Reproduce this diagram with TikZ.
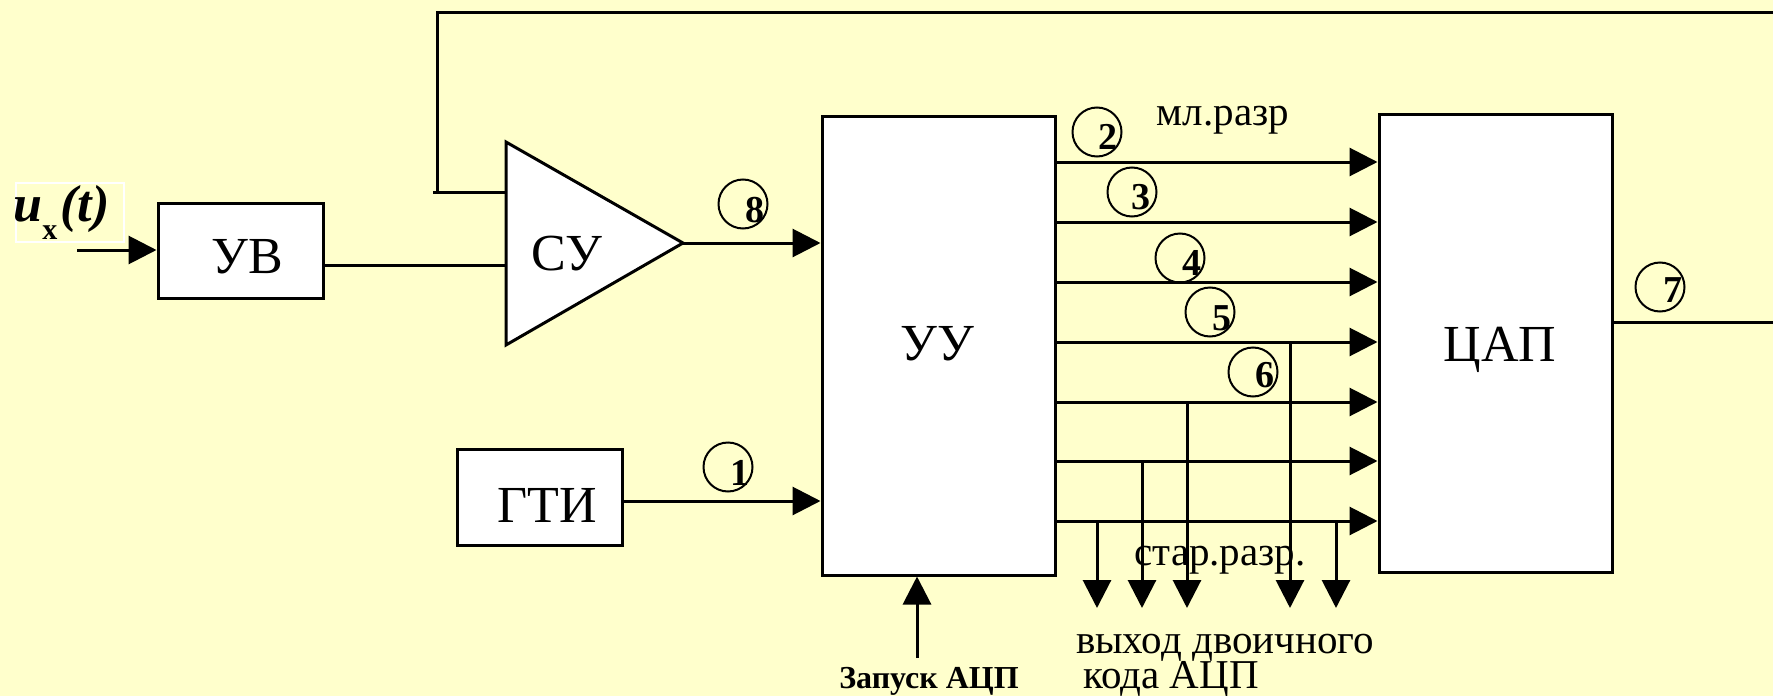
\documentclass[tikz,border=0pt]{standalone}
\usepackage{fontspec}
\setmainfont{Liberation Serif}
\usetikzlibrary{arrows.meta,calc}
\definecolor{bgy}{RGB}{255,255,204}
\begin{document}
\begin{tikzpicture}[x=0.5pt,y=-0.5pt,
  line width=1.5pt,
  arr/.style={-{Triangle[length=14pt,width=14pt]}},
  blk/.style={draw, fill=white, inner sep=0pt, line width=1.5pt},
  lbl/.style={font=\fontsize{26}{28}\selectfont, inner sep=0pt, anchor=base},
  numc/.style={draw, circle, line width=1pt, minimum size=24.5pt, inner sep=0pt},
  numd/.style={font=\fontsize{19}{20}\selectfont\bfseries, inner sep=0pt},
  small/.style={font=\fontsize{20.5}{22}\selectfont, inner sep=0pt, anchor=base}]
% background
\fill[bgy] (0,0) rectangle (1773,696);
\useasboundingbox (0,0) rectangle (1773,696);

% input label
\draw[white, line width=1pt] (16,183) rectangle (124,242);
\node[anchor=base west, inner sep=0pt, font=\fontsize{26}{27}\selectfont\bfseries] (ux) at (12,221)
  {\itshape u\raisebox{-9pt}{\upshape\fontsize{15}{16}\selectfont x}\hspace{1.5pt}(t)};

% blocks
\node[blk, minimum width=82.5pt, minimum height=47.5pt] (UV) at (240.5,250.5) {};
\node[lbl] (UVt) at (247,273) {УВ};
\node[blk, minimum width=82.5pt, minimum height=48pt] (GTI) at (539.5,497) {};
\node[lbl] (GTIt) at (547,522) {ГТИ};
\node[blk, minimum width=116.5pt, minimum height=229.5pt] (UU) at (938.5,345.5) {};
\node[lbl] (UUt) at (937,360) {УУ};
\node[blk, minimum width=116.5pt, minimum height=229pt] (CAP) at (1495.5,343) {};
\node[lbl] (CAPt) at (1500,361) {ЦАП};

% comparator triangle
\coordinate (SUtop) at (506,142);
\coordinate (SUbot) at (506,345);
\coordinate (SUout) at (683,243);
\filldraw[fill=white] (SUtop) -- (SUout) -- (SUbot) -- cycle;
\node[lbl] (SUt) at (567,270) {СУ};

% input arrow
\coordinate (uin) at (77,250);
\draw[arr] (uin) -- (UV.west |- uin);
% UV -> SU
\coordinate (suin) at (506,265);
\draw (UV.east |- suin) -- (suin);
% feedback
\coordinate (fb) at (506,192);
\coordinate (fbl) at (433,192);
\coordinate (fbc) at (437,192);
\coordinate (fbt) at (437,12);
\coordinate (fbr) at (1773,12);
\draw (fb) -- (fbl);
\draw (fbc) -- (fbt) -- (fbr);
% SU -> UU
\draw[arr] (SUout) -- (UU.west |- SUout);
% GTI -> UU
\coordinate (gy) at (0,501);
\draw[arr] (GTI.east |- gy) -- (UU.west |- gy);
% start
\coordinate (st) at (917,658);
\draw[arr] (st) -- (st |- UU.south);
% CAP output
\coordinate (cout) at (1773,322);
\draw (CAP.east |- cout) -- (cout);

% bus
\foreach \y [count=\i] in {162,222,282,342,402,461,521} {
  \coordinate (b\i) at (0,\y);
  \draw[arr] (UU.east |- b\i) -- (CAP.west |- b\i);
}
% output bits
\coordinate (o1) at (1097,608);
\coordinate (o2) at (1142,608);
\coordinate (o3) at (1187,608);
\coordinate (o4) at (1290,608);
\coordinate (o5) at (1336,608);
\draw[arr] (o1 |- b7) -- (o1);
\draw[arr] (o2 |- b6) -- (o2);
\draw[arr] (o3 |- b5) -- (o3);
\draw[arr] (o4 |- b4) -- (o4);
\draw[arr] (o5 |- b7) -- (o5);

% numbered circles
\node[numc] (c1) at (728,467) {};  \node[numd] (d1) at (740,473) {1};
\node[numc] (c2) at (1097,132) {}; \node[numd] (d2) at (1108,137) {2};
\node[numc] (c3) at (1132,192) {}; \node[numd] (d3) at (1141,197) {3};
\node[numc] (c4) at (1180,258) {}; \node[numd] (d4) at (1192,263) {4};
\node[numc] (c5) at (1210,312) {}; \node[numd] (d5) at (1222,318) {5};
\node[numc] (c6) at (1253,372) {}; \node[numd] (d6) at (1265,375) {6};
\node[numc] (c7) at (1660,287) {}; \node[numd] (d7) at (1673,290) {7};
\node[numc] (c8) at (743,204) {};  \node[numd] (d8) at (755,210) {8};

% texts
\node[small] (ml) at (1223,125) {мл.разр};
\node[small] (st2) at (1220,565) {стар.разр.};
\node[small] (out1) at (1225,653) {выход двоичного};
\node[small] (out2) at (1171,688) {кода АЦП};
\node[anchor=base, inner sep=0pt, font=\fontsize{16}{17}\selectfont\bfseries] (start) at (929,688) {Запуск АЦП};
\end{tikzpicture}
\end{document}
